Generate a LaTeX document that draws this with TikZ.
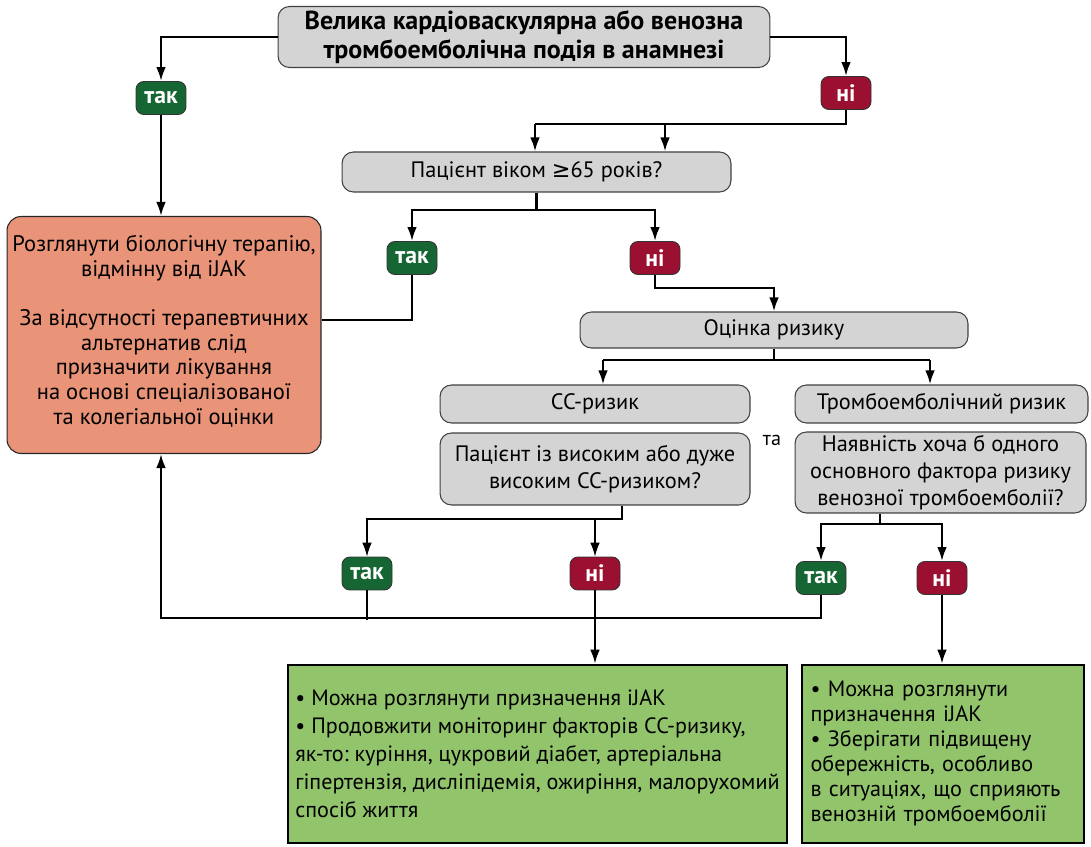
\documentclass[tikz,border=0pt]{standalone}
\usepackage{fontspec}
\setmainfont{PT Sans}
\newfontfamily\symfont{DejaVu Sans}
\usetikzlibrary{positioning, arrows.meta}
\frenchspacing

\definecolor{boxgray}{RGB}{212,212,212}
\definecolor{consultcol}{RGB}{233,147,120}
\definecolor{treatcol}{RGB}{146,196,108}
\definecolor{yescol}{RGB}{22,102,52}
\definecolor{nocol}{RGB}{155,16,48}

\tikzset{
    question/.style={draw=black!75, line width=0.6pt, fill=boxgray, rounded corners=6.5pt, align=center, inner sep=0pt, font=\fontsize{12.7}{15.5}\selectfont},
    yesbadge/.style={draw=black!80, line width=0.5pt, fill=yescol, text=white, rounded corners=4.5pt, minimum width=1cm, minimum height=0.66cm, inner sep=0pt, font=\fontsize{13.5}{14}\selectfont\bfseries},
    nobadge/.style={yesbadge, fill=nocol},
    treatbox/.style={draw, line width=1.4pt, fill=treatcol, align=left, anchor=center, inner sep=0pt, font=\fontsize{12.6}{16}\selectfont},
    link/.style={line width=1.3pt},
    arrow/.style={link, -{Latex[length=8pt, width=5.5pt]}},
    thinarrow/.style={line width=0.7pt, -{Latex[length=8pt, width=5.5pt]}}
}

\begin{document}
\begin{tikzpicture}[x=0.02cm, y=-0.02cm]
    \useasboundingbox (0,0) rectangle (1091,847);

    \node (history) [question, minimum width=9.84cm, minimum height=1.22cm, font=\fontsize{14.8}{16.5}\selectfont\bfseries] at (524,37) {Велика кардіоваскулярна або венозна\\тромбоемболічна подія в анамнезі};
    \node (yesA) [yesbadge] at (161,98) {так};
    \node (noA) [nobadge] at (846,93) {ні};

    \node (age) [question, minimum width=7.78cm, minimum height=0.8cm] at (536.5,172) {Пацієнт віком {\symfont ≥}65 років?};
    \node (yesB) [yesbadge] at (412,258) {так};
    \node (noB) [nobadge] at (655,258) {ні};

    \node (consult) [question, fill=consultcol, draw=black!85, rounded corners=8pt, minimum width=6.28cm, minimum height=4.74cm, font=\fontsize{12.8}{14}\selectfont] at (164,335) {\rule{0pt}{0pt}\\[-9pt]Розглянути біологічну терапію,\\відмінну від іJAK\\[14pt]За відсутності терапевтичних\\альтернатив слід\\призначити лікування\\на основі спеціалізованої\\та колегіальної оцінки};

    \node (risk) [question, minimum width=7.76cm, minimum height=0.72cm] at (774,330) {Оцінка ризику};
    \node (cvhead) [question, minimum width=6.2cm, minimum height=0.76cm] at (595,404) {СС-ризик};
    \node (vtehead) [question, minimum width=5.86cm, minimum height=0.76cm] at (941.5,404) {Тромбоемболічний ризик};
    \node (cvq) [question, minimum width=6.2cm, minimum height=1.44cm] at (595,469) {Пацієнт із високим або дуже\\високим СС-ризиком?};
    \node (vteq) [question, minimum width=5.82cm, minimum height=1.62cm] at (940.5,472.5) {Наявність хоча б одного\\основного фактора ризику\\венозної тромбоемболії?};
    \node (andtext) [font=\fontsize{11.5}{14}\selectfont] at (772,440) {та};

    \node (yesC) [yesbadge] at (367,573.5) {так};
    \node (noC) [nobadge] at (595,573.5) {ні};
    \node (yesD) [yesbadge] at (821,578) {так};
    \node (noD) [nobadge] at (942,578) {ні};

    \node (treatA) [treatbox, minimum width=9.98cm, minimum height=3.56cm] at (537.5,754) {• Можна розглянути призначення іJAK\\• Продовжити моніторинг факторів СС-ризику,\\як-то: куріння, цукровий діабет, артеріальна\\гіпертензія, дисліпідемія, ожиріння, малорухомий\\спосіб життя};
    \node (treatB) [treatbox, minimum width=5.64cm, minimum height=3.56cm, text width=5.3cm, font=\fontsize{12.6}{14.3}\selectfont] at (943,754) {\rule{0pt}{0pt}\\[-6pt]• Можна розглянути\\призначення іJAK\\• Зберігати підвищену\\обережність, особливо\\в ситуаціях, що сприяють\\венозній тромбоемболії};

    \coordinate (ageL) at (535,124);
    \coordinate (ageR) at (665,124);
    \coordinate (ageFork) at (536.5,210);
    \coordinate (riskIn) at (774,288);
    \coordinate (cvIn) at (603,360);
    \coordinate (vteIn) at (930,360);
    \coordinate (cvFork) at (622,519);
    \coordinate (vteFork) at (880,524);
    \coordinate (backL) at (161,618);

    \draw [arrow] (history.west) -| (yesA.north);
    \draw [arrow] (history.east) -| (noA.north);
    \draw [link] (noA.south) |- (ageL);
    \draw [arrow] (ageL) -- (ageL |- age.north);
    \draw [arrow] (ageR) -- (ageR |- age.north);

    \draw [arrow] (yesA.south) -- (yesA.south |- consult.north);
    \draw [link] (age.south) -- (ageFork);
    \draw [arrow] (ageFork) -| (yesB.north);
    \draw [arrow] (ageFork) -| (noB.north);
    \draw [link] (yesB.south) |- ([yshift=0.3cm]consult.east);
    \draw [arrow] (noB.south) |- (riskIn) -- (risk.north);

    \draw [link] (risk.south) -- (risk.south |- cvIn);
    \draw [link] (cvIn) -- (vteIn);
    \draw [arrow] (cvIn) -- (cvIn |- cvhead.north);
    \draw [arrow] (vteIn) -- (vteIn |- vtehead.north);

    \draw [thinarrow] (cvFork |- cvq.south) -- (cvFork) -| (yesC.north);
    \draw [thinarrow] (cvFork -| noC.north) -- (noC.north);
    \draw [link] (vteFork |- vteq.south) -- (vteFork);
    \draw [arrow] (vteFork) -| (yesD.north);
    \draw [arrow] (vteFork) -| (noD.north);

    \draw [arrow] (yesD.south) |- (backL) -- (backL |- consult.south);
    \draw [link] (yesC.south) -- ([yshift=-0.04cm]yesC.south |- backL);
    \draw [arrow] (noC.south) -- (noC.south |- treatA.north);
    \draw [arrow] (noD.south) -- (noD.south |- treatB.north);
\end{tikzpicture}
\end{document}
